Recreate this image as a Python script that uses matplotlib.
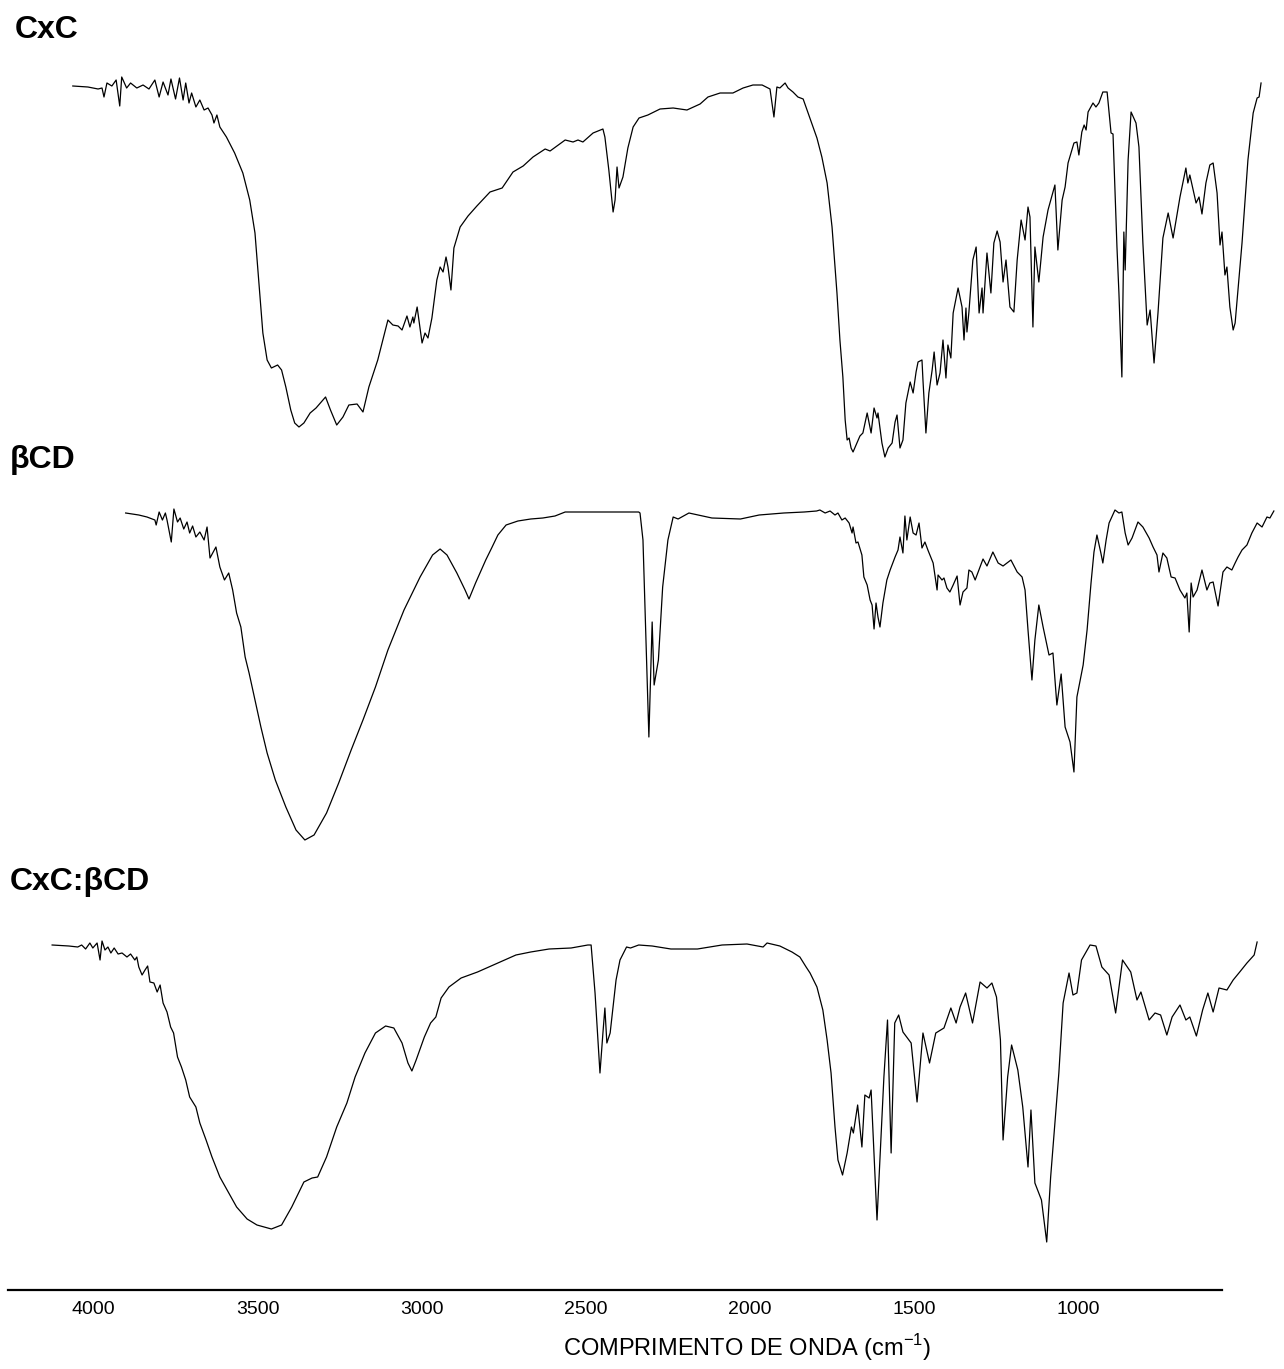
import matplotlib
matplotlib.use("Agg")
import matplotlib.pyplot as plt

plt.rcParams['font.family'] = ['Liberation Sans', 'DejaVu Sans']
plt.rcParams['mathtext.fontset'] = 'custom'
plt.rcParams['mathtext.rm'] = 'Liberation Sans'

# FTIR spectra: wavenumber (cm-1) and transmittance (arbitrary units)
cxc_wn = [4063, 4017, 3986, 3974, 3968, 3959, 3944, 3931, 3920, 3914, 3899, 3887, 3868,
          3849, 3831, 3813, 3800, 3788, 3773, 3764, 3750, 3738, 3727, 3719, 3709, 3701,
          3688, 3676, 3663, 3651, 3639, 3633, 3624, 3615, 3595, 3570, 3545, 3524, 3508,
          3496, 3484, 3471, 3458, 3439, 3427, 3414, 3399, 3387, 3374, 3359, 3340, 3322,
          3293, 3278, 3259, 3240, 3222, 3197, 3179, 3161, 3134, 3103, 3088, 3072, 3060,
          3045, 3036, 3027, 3024, 3014, 2999, 2990, 2981, 2969, 2954, 2944, 2935, 2926,
          2920, 2911, 2902, 2883, 2859, 2832, 2792, 2755, 2722, 2691, 2661, 2624, 2609,
          2563, 2539, 2524, 2509, 2478, 2448, 2442, 2430, 2417, 2411, 2405, 2399, 2387,
          2372, 2356, 2338, 2311, 2274, 2234, 2192, 2152, 2128, 2091, 2052, 2021, 1991,
          1963, 1939, 1927, 1918, 1909, 1893, 1884, 1869, 1854, 1838, 1823, 1808, 1796,
          1781, 1765, 1750, 1735, 1726, 1717, 1710, 1704, 1698, 1692, 1686, 1674, 1665,
          1656, 1643, 1631, 1622, 1613, 1610, 1598, 1589, 1579, 1567, 1558, 1552, 1543,
          1534, 1525, 1512, 1503, 1494, 1488, 1476, 1473, 1464, 1455, 1445, 1439, 1430,
          1421, 1412, 1403, 1397, 1388, 1381, 1366, 1354, 1348, 1342, 1339, 1333, 1321,
          1311, 1302, 1293, 1290, 1278, 1266, 1257, 1247, 1238, 1229, 1220, 1208, 1196,
          1186, 1174, 1162, 1153, 1147, 1138, 1132, 1120, 1107, 1092, 1071, 1062, 1049,
          1040, 1031, 1013, 1004, 998, 989, 982, 976, 970, 955, 946, 937, 925, 912, 900,
          894, 882, 876, 867, 861, 857, 848, 839, 824, 815, 803, 790, 781, 769, 757, 742,
          726, 711, 690, 672, 666, 660, 641, 632, 623, 611, 599, 589, 577, 568, 562, 553,
          547, 538, 528, 522, 501, 483, 467, 455, 449, 443]
cxc_t = [384, 383, 381, 382, 373, 387, 384, 390, 364, 393, 382, 387, 382,
         385, 381, 390, 373, 388, 375, 391, 371, 392, 370, 387, 367, 377,
         363, 370, 360, 362, 355, 347, 355, 343, 333, 317, 297, 270, 237,
         187, 137, 110, 102, 105, 100, 83, 60, 47, 43, 47, 57, 62,
         73, 60, 45, 53, 65, 66, 58, 83, 110, 150, 145, 144, 140,
         154, 143, 153, 147, 163, 127, 137, 132, 152, 190, 203, 198, 213,
         203, 180, 222, 243, 254, 264, 278, 282, 298, 304, 313, 321, 319,
         330, 328, 330, 328, 337, 341, 333, 300, 258, 270, 303, 282, 293,
         322, 343, 352, 355, 361, 362, 360, 366, 373, 377, 377, 382, 385,
         385, 381, 353, 383, 382, 387, 382, 378, 373, 371, 357, 343, 332,
         313, 287, 243, 177, 130, 93, 50, 30, 32, 22, 18, 27, 34,
         37, 57, 37, 62, 52, 57, 27, 13, 22, 27, 48, 55, 22,
         30, 67, 88, 77, 98, 108, 110, 90, 37, 77, 100, 118, 85,
         97, 130, 92, 125, 112, 157, 182, 163, 130, 162, 138, 158, 210,
         223, 157, 182, 157, 217, 177, 227, 239, 228, 188, 210, 163, 158,
         210, 250, 230, 263, 253, 143, 223, 188, 233, 260, 285, 220, 270,
         283, 307, 327, 328, 315, 338, 345, 340, 358, 367, 363, 367, 378, 378, 337,
         336, 223, 177, 93, 238, 200, 310, 358, 347, 323, 227, 145, 160, 107, 157, 232,
         257, 232, 273, 302, 287, 295, 267, 273, 256, 287, 305, 307, 277, 225, 238, 195,
         203, 163, 140, 147, 227, 310, 357, 372, 373, 387]

bcd_wn = [3902, 3862, 3837, 3813, 3809, 3800, 3790, 3781, 3776, 3763, 3755, 3744, 3736,
          3725, 3715, 3707, 3698, 3688, 3676, 3663, 3654, 3645, 3627, 3615, 3601, 3588,
          3576, 3564, 3551, 3538, 3526, 3508, 3490, 3471, 3446, 3414, 3383, 3356, 3328,
          3290, 3253, 3215, 3179, 3141, 3103, 3054, 3005, 2967, 2944, 2923, 2893, 2868,
          2856, 2836, 2805, 2787, 2768, 2743, 2707, 2668, 2631, 2594, 2563, 2494, 2420,
          2339, 2335, 2326, 2317, 2308, 2298, 2292, 2279, 2266, 2250, 2234, 2219, 2186,
          2116, 2029, 1972, 1897, 1835, 1797, 1787, 1771, 1756, 1741, 1732, 1720, 1710,
          1698, 1689, 1686, 1677, 1671, 1659, 1653, 1643, 1634, 1628, 1622, 1616, 1610,
          1604, 1595, 1583, 1573, 1558, 1549, 1543, 1534, 1528, 1522, 1512, 1503, 1494,
          1485, 1476, 1467, 1458, 1442, 1430, 1427, 1415, 1409, 1400, 1391, 1381, 1369,
          1360, 1351, 1339, 1333, 1324, 1314, 1290, 1278, 1260, 1244, 1229, 1205, 1186,
          1171, 1162, 1153, 1141, 1132, 1120, 1107, 1089, 1077, 1065, 1052, 1040, 1025,
          1013, 1004, 985, 973, 961, 952, 943, 931, 925, 915, 906, 888, 876, 867, 857,
          848, 836, 818, 803, 784, 772, 760, 754, 742, 730, 717, 705, 690, 675, 669,
          662, 656, 650, 638, 623, 608, 599, 589, 574, 559, 547, 532, 522, 513, 501,
          486, 471, 455, 440, 425, 416, 404]
bcd_t = [347, 345, 343, 340, 335, 348, 340, 347, 340, 318, 351, 338, 342,
         331, 338, 327, 334, 323, 328, 320, 333, 302, 313, 293, 280, 287,
         270, 247, 233, 203, 187, 160, 133, 107, 80, 53, 30, 20, 25,
         47, 77, 110, 140, 173, 210, 250, 283, 305, 311, 305, 287, 270,
         261, 277, 300, 312, 325, 335, 339, 341, 342, 344, 348, 348, 348,
         348, 347, 320, 220, 123, 238, 175, 200, 273, 320, 343, 341, 347,
         342, 341, 345, 347, 348, 349, 350, 347, 349, 345, 347, 340, 342,
         337, 327, 333, 317, 318, 305, 283, 275, 260, 255, 231, 257, 243,
         233, 257, 280, 290, 303, 310, 323, 307, 344, 320, 343, 327, 325,
         337, 312, 318, 310, 297, 270, 285, 280, 282, 272, 268, 275, 284,
         255, 268, 272, 290, 288, 280, 301, 294, 308, 297, 294, 300, 288,
         283, 270, 230, 180, 220, 255, 233, 205, 207, 155, 186, 133, 118,
         88, 163, 195, 230, 277, 308, 325, 307, 297, 320, 337, 350, 347, 348, 327,
         315, 322, 338, 333, 322, 313, 305, 288, 307, 302, 283, 282, 270, 262, 267,
         228, 277, 263, 270, 290, 270, 277, 278, 254, 288, 293, 290, 297, 303, 310,
         315, 327, 337, 333, 343, 342, 349]

mix_wn = [4126, 4075, 4048, 4036, 4024, 4011, 4002, 3989, 3980, 3974, 3965, 3956, 3947,
          3937, 3925, 3913, 3898, 3887, 3874, 3868, 3862, 3852, 3843, 3835, 3828, 3816,
          3806, 3797, 3788, 3776, 3765, 3756, 3744, 3732, 3719, 3707, 3688, 3676, 3657,
          3639, 3615, 3588, 3564, 3532, 3502, 3458, 3427, 3396, 3359, 3334, 3317, 3290,
          3259, 3228, 3203, 3173, 3141, 3110, 3085, 3060, 3042, 3030, 3017, 2992, 2973,
          2957, 2941, 2917, 2880, 2830, 2768, 2713, 2668, 2612, 2545, 2494, 2484, 2472,
          2457, 2448, 2442, 2436, 2426, 2408, 2396, 2376, 2364, 2339, 2298, 2241, 2160,
          2085, 2009, 1960, 1948, 1909, 1872, 1848, 1829, 1817, 1796, 1778, 1765, 1753,
          1741, 1732, 1718, 1704, 1691, 1685, 1672, 1659, 1650, 1637, 1631, 1613, 1592,
          1581, 1570, 1559, 1547, 1534, 1509, 1491, 1473, 1453, 1434, 1409, 1388, 1372,
          1360, 1343, 1322, 1299, 1278, 1263, 1249, 1237, 1229, 1215, 1203, 1184, 1169,
          1153, 1144, 1132, 1112, 1096, 1084, 1071, 1059, 1046, 1028, 1016, 1004, 990,
          964, 946, 928, 906, 886, 865, 840, 821, 809, 784, 766, 749, 730, 714, 690,
          672, 660, 640, 621, 605, 589, 571, 547, 528, 508, 486, 464, 455]
mix_t = [315, 314, 313, 315, 311, 317, 312, 317, 300, 319, 310, 313, 307,
         312, 306, 307, 303, 306, 300, 303, 293, 285, 290, 294, 278, 277,
         268, 275, 257, 248, 233, 227, 203, 193, 180, 163, 153, 137, 120,
         103, 83, 67, 53, 41, 35, 31, 35, 53, 78, 82, 83, 103,
         133, 157, 183, 207, 227, 234, 232, 217, 197, 189, 200, 223, 237,
         243, 262, 273, 282, 288, 297, 305, 308, 311, 312, 315, 315, 267,
         187, 227, 252, 217, 227, 280, 300, 313, 312, 315, 314, 311, 311,
         315, 316, 313, 317, 314, 308, 303, 293, 287, 273, 250, 220, 187,
         133, 100, 85, 107, 133, 127, 155, 113, 165, 162, 170, 40, 183,
         240, 107, 237, 245, 228, 217, 158, 227, 197, 227, 232, 252, 237,
         253, 267, 237, 278, 272, 277, 263, 220, 120, 183, 215, 190, 153,
         93, 150, 77, 60, 18, 83, 137, 187, 257, 287, 265, 267, 300,
         315, 314, 293, 285, 247, 300, 288, 260, 268, 240, 247, 245, 225, 243, 255,
         240, 243, 224, 250, 267, 248, 272, 270, 280, 288, 297, 305, 318]

names = ['CxC', 'βCD', 'CxC:βCD']
offsets = [820, 430, 30]
tick_vals = [4000, 3500, 3000, 2500, 2000, 1500, 1000]

W, H = 1284, 1369
fig = plt.figure(figsize=(W / 100, H / 100), dpi=100)
ax = fig.add_axes([0, (H - 1290) / H, 1, 1250 / H])

for wn, t, off in zip([cxc_wn, bcd_wn, mix_wn], [cxc_t, bcd_t, mix_t], offsets):
    ax.plot(wn, [v + off for v in t], color='black', lw=0.9)

ax.set_xlim(4284.8, 373.1)
ax.set_ylim(0, 1250)
for s in ['top', 'right', 'left']:
    ax.spines[s].set_visible(False)
ax.spines['bottom'].set_linewidth(1.6)
ax.spines['bottom'].set_bounds(4260, 562)
ax.set_yticks([])
ax.set_xticks(tick_vals)
ax.set_xticklabels([str(v) for v in tick_vals])
ax.tick_params(axis='x', length=0, pad=8, labelsize=14)

fig.text(747 / W, 1 - 1348 / H, 'COMPRIMENTO DE ONDA (cm$^{-1}$)', ha='center', va='center',
         fontsize=17)

label_pos = [(15, 38), (10, 468), (10, 890)]
for name, (x, y) in zip(names, label_pos):
    fig.text(x / W, 1 - y / H, name, fontsize=23, fontweight='bold', ha='left', va='baseline')

fig.savefig('out.png', dpi=100)
